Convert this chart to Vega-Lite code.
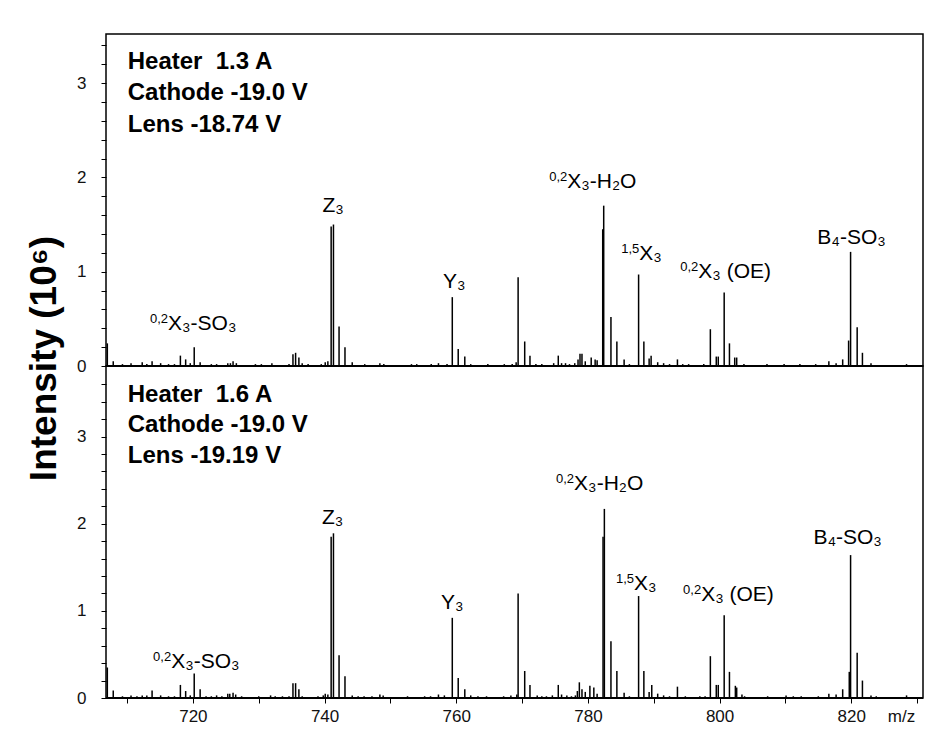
{
  "$schema": "https://vega.github.io/schema/vega-lite/v6.json",
  "padding": {"left": 24, "top": 33, "right": 5, "bottom": 5},
  "background": "white",
  "bounds": "flush",
  "config": {
    "font": "Liberation Sans",
    "view": {"stroke": "#000", "strokeWidth": 1.5},
    "axis": {"grid": false, "domain": false, "tickColor": "#000", "tickSize": 5, "tickWidth": 1, "labelColor": "#111", "labelFontSize": 17, "titleColor": "#000", "labelOverlap": false, "tickCount": 100}
  },
  "spacing": 0,
  "datasets": {
    "top": [
      {"mz":707.0,"i":0.24},{"mz":707.9,"i":0.05},{"mz":709.3,"i":0.02},{"mz":710.6,"i":0.03},{"mz":711.5,"i":0.01},{"mz":712.3,"i":0.04},{"mz":713.0,"i":0.02},{"mz":713.8,"i":0.05},{"mz":715.1,"i":0.03},{"mz":716.3,"i":0.02},{"mz":717.2,"i":0.02},{"mz":718.1,"i":0.11},{"mz":718.9,"i":0.07},{"mz":719.6,"i":0.03},{"mz":720.2,"i":0.20},{"mz":721.1,"i":0.04},{"mz":722.0,"i":0.01},{"mz":722.8,"i":0.02},{"mz":723.6,"i":0.02},{"mz":724.4,"i":0.01},{"mz":725.3,"i":0.03},{"mz":725.7,"i":0.03},{"mz":726.1,"i":0.05},{"mz":726.6,"i":0.03},{"mz":728.2,"i":0.01},{"mz":729.5,"i":0.02},{"mz":730.4,"i":0.02},{"mz":732.0,"i":0.03},{"mz":733.4,"i":0.01},{"mz":734.6,"i":0.02},{"mz":735.2,"i":0.125},{"mz":735.6,"i":0.14},{"mz":736.1,"i":0.09},{"mz":736.6,"i":0.03},{"mz":737.5,"i":0.02},{"mz":738.6,"i":0.01},{"mz":739.5,"i":0.02},{"mz":740.1,"i":0.04},{"mz":740.5,"i":0.05},{"mz":741.0,"i":1.48},{"mz":741.35,"i":1.50},{"mz":742.2,"i":0.42},{"mz":743.1,"i":0.20},{"mz":744.2,"i":0.04},{"mz":745.0,"i":0.01},{"mz":746.1,"i":0.02},{"mz":747.0,"i":0.01},{"mz":748.4,"i":0.03},{"mz":749.0,"i":0.02},{"mz":750.3,"i":0.01},{"mz":751.6,"i":0.01},{"mz":753.2,"i":0.02},{"mz":754.0,"i":0.02},{"mz":755.2,"i":0.01},{"mz":756.2,"i":0.02},{"mz":757.3,"i":0.03},{"mz":758.6,"i":0.02},{"mz":759.4,"i":0.73},{"mz":760.3,"i":0.18},{"mz":761.3,"i":0.10},{"mz":762.2,"i":0.02},{"mz":763.4,"i":0.01},{"mz":764.8,"i":0.02},{"mz":766.0,"i":0.01},{"mz":767.3,"i":0.02},{"mz":768.5,"i":0.02},{"mz":769.1,"i":0.04},{"mz":769.4,"i":0.94},{"mz":770.4,"i":0.26},{"mz":771.2,"i":0.11},{"mz":772.1,"i":0.02},{"mz":773.0,"i":0.02},{"mz":774.0,"i":0.01},{"mz":774.8,"i":0.03},{"mz":775.5,"i":0.11},{"mz":776.0,"i":0.03},{"mz":776.6,"i":0.03},{"mz":777.2,"i":0.02},{"mz":778.0,"i":0.03},{"mz":778.5,"i":0.07},{"mz":778.8,"i":0.13},{"mz":779.1,"i":0.13},{"mz":779.6,"i":0.05},{"mz":780.5,"i":0.09},{"mz":781.1,"i":0.07},{"mz":781.4,"i":0.06},{"mz":782.25,"i":1.45},{"mz":782.4,"i":1.70},{"mz":783.5,"i":0.52},{"mz":784.4,"i":0.26},{"mz":785.5,"i":0.07},{"mz":786.3,"i":0.02},{"mz":787.7,"i":0.97},{"mz":788.5,"i":0.26},{"mz":789.3,"i":0.08},{"mz":789.6,"i":0.11},{"mz":790.6,"i":0.04},{"mz":791.5,"i":0.03},{"mz":792.4,"i":0.02},{"mz":793.6,"i":0.07},{"mz":794.4,"i":0.02},{"mz":795.3,"i":0.02},{"mz":796.5,"i":0.01},{"mz":797.6,"i":0.02},{"mz":798.6,"i":0.39},{"mz":799.5,"i":0.10},{"mz":799.8,"i":0.10},{"mz":800.7,"i":0.78},{"mz":801.5,"i":0.24},{"mz":802.3,"i":0.09},{"mz":802.6,"i":0.09},{"mz":803.7,"i":0.02},{"mz":804.6,"i":0.01},{"mz":805.8,"i":0.01},{"mz":807.2,"i":0.02},{"mz":808.4,"i":0.01},{"mz":809.8,"i":0.02},{"mz":811.4,"i":0.01},{"mz":812.2,"i":0.02},{"mz":813.5,"i":0.01},{"mz":814.6,"i":0.02},{"mz":816.6,"i":0.05},{"mz":817.7,"i":0.03},{"mz":818.7,"i":0.07},{"mz":819.6,"i":0.27},{"mz":819.9,"i":1.21},{"mz":820.9,"i":0.41},{"mz":821.7,"i":0.14},{"mz":823.0,"i":0.03},{"mz":823.8,"i":0.01},{"mz":825.0,"i":0.01},{"mz":826.5,"i":0.01},{"mz":828.4,"i":0.02}
    ],
    "bottom": [
      {"mz":707.0,"i":0.35},{"mz":707.9,"i":0.085},{"mz":709.3,"i":0.02},{"mz":710.6,"i":0.03},{"mz":711.5,"i":0.02},{"mz":712.3,"i":0.03},{"mz":713.0,"i":0.03},{"mz":713.8,"i":0.085},{"mz":715.1,"i":0.03},{"mz":716.3,"i":0.02},{"mz":717.2,"i":0.02},{"mz":718.1,"i":0.15},{"mz":718.9,"i":0.08},{"mz":719.6,"i":0.03},{"mz":720.2,"i":0.28},{"mz":721.1,"i":0.10},{"mz":722.0,"i":0.02},{"mz":722.8,"i":0.02},{"mz":723.6,"i":0.03},{"mz":724.4,"i":0.02},{"mz":725.3,"i":0.05},{"mz":725.6,"i":0.05},{"mz":726.1,"i":0.06},{"mz":726.5,"i":0.04},{"mz":727.4,"i":0.02},{"mz":728.4,"i":0.01},{"mz":730.0,"i":0.02},{"mz":730.8,"i":0.01},{"mz":731.8,"i":0.03},{"mz":732.5,"i":0.02},{"mz":733.6,"i":0.02},{"mz":734.6,"i":0.02},{"mz":735.2,"i":0.17},{"mz":735.6,"i":0.17},{"mz":736.1,"i":0.10},{"mz":736.6,"i":0.02},{"mz":737.8,"i":0.01},{"mz":739.0,"i":0.02},{"mz":739.8,"i":0.03},{"mz":740.1,"i":0.05},{"mz":740.5,"i":0.04},{"mz":741.0,"i":1.85},{"mz":741.35,"i":1.89},{"mz":742.2,"i":0.49},{"mz":743.1,"i":0.25},{"mz":744.2,"i":0.03},{"mz":745.1,"i":0.02},{"mz":746.0,"i":0.02},{"mz":747.2,"i":0.02},{"mz":748.4,"i":0.04},{"mz":748.9,"i":0.03},{"mz":750.2,"i":0.01},{"mz":751.5,"i":0.01},{"mz":752.6,"i":0.02},{"mz":754.0,"i":0.01},{"mz":755.2,"i":0.02},{"mz":756.1,"i":0.02},{"mz":757.3,"i":0.04},{"mz":758.2,"i":0.03},{"mz":759.4,"i":0.92},{"mz":760.3,"i":0.23},{"mz":761.3,"i":0.10},{"mz":762.2,"i":0.03},{"mz":763.3,"i":0.02},{"mz":764.6,"i":0.02},{"mz":765.8,"i":0.01},{"mz":767.2,"i":0.02},{"mz":768.3,"i":0.03},{"mz":769.2,"i":0.04},{"mz":769.4,"i":1.20},{"mz":770.4,"i":0.31},{"mz":771.2,"i":0.15},{"mz":772.3,"i":0.03},{"mz":773.0,"i":0.02},{"mz":773.7,"i":0.02},{"mz":774.6,"i":0.03},{"mz":775.5,"i":0.15},{"mz":776.0,"i":0.04},{"mz":776.8,"i":0.03},{"mz":777.5,"i":0.02},{"mz":778.1,"i":0.03},{"mz":778.4,"i":0.08},{"mz":778.7,"i":0.18},{"mz":779.1,"i":0.10},{"mz":779.6,"i":0.07},{"mz":780.3,"i":0.14},{"mz":780.9,"i":0.12},{"mz":781.4,"i":0.05},{"mz":782.3,"i":1.85},{"mz":782.5,"i":2.17},{"mz":783.5,"i":0.65},{"mz":784.4,"i":0.31},{"mz":785.5,"i":0.06},{"mz":786.3,"i":0.02},{"mz":787.7,"i":1.17},{"mz":788.5,"i":0.31},{"mz":789.3,"i":0.07},{"mz":789.7,"i":0.15},{"mz":790.6,"i":0.05},{"mz":791.5,"i":0.03},{"mz":792.4,"i":0.02},{"mz":793.6,"i":0.13},{"mz":794.8,"i":0.02},{"mz":795.9,"i":0.01},{"mz":797.0,"i":0.02},{"mz":797.8,"i":0.02},{"mz":798.6,"i":0.48},{"mz":799.5,"i":0.15},{"mz":799.8,"i":0.15},{"mz":800.7,"i":0.95},{"mz":801.5,"i":0.30},{"mz":802.4,"i":0.14},{"mz":802.6,"i":0.12},{"mz":803.4,"i":0.04},{"mz":803.8,"i":0.02},{"mz":805.0,"i":0.01},{"mz":806.2,"i":0.01},{"mz":807.3,"i":0.02},{"mz":808.6,"i":0.01},{"mz":810.1,"i":0.03},{"mz":811.2,"i":0.02},{"mz":812.4,"i":0.02},{"mz":813.6,"i":0.01},{"mz":815.0,"i":0.02},{"mz":816.6,"i":0.05},{"mz":817.7,"i":0.04},{"mz":818.7,"i":0.10},{"mz":819.7,"i":0.30},{"mz":819.9,"i":1.64},{"mz":820.9,"i":0.52},{"mz":821.7,"i":0.20},{"mz":823.0,"i":0.03},{"mz":823.8,"i":0.02},{"mz":825.2,"i":0.01},{"mz":826.8,"i":0.01},{"mz":828.4,"i":0.03}
    ],
    "labTop": [
      {"mz":716.22,"y":0.384,"pre":"0,2","main":"X₃-SO₃"},
      {"mz":739.67,"y":1.638,"pre":"","main":"Z₃"},
      {"mz":758.0,"y":0.83,"pre":"","main":"Y₃"},
      {"mz":776.86,"y":1.882,"pre":"0,2","main":"X₃-H₂O"},
      {"mz":787.8,"y":1.119,"pre":"1,5","main":"X₃"},
      {"mz":796.77,"y":0.938,"pre":"0,2","main":"X₃ (OE)"},
      {"mz":814.85,"y":1.296,"pre":"","main":"B₄-SO₃"}
    ],
    "labBottom": [
      {"mz":716.7,"y":0.345,"pre":"0,2","main":"X₃-SO₃"},
      {"mz":739.6,"y":2.0,"pre":"","main":"Z₃"},
      {"mz":757.7,"y":1.016,"pre":"","main":"Y₃"},
      {"mz":777.9,"y":2.384,"pre":"0,2","main":"X₃-H₂O"},
      {"mz":787.0,"y":1.234,"pre":"1,5","main":"X₃"},
      {"mz":797.2,"y":1.111,"pre":"0,2","main":"X₃ (OE)"},
      {"mz":814.25,"y":1.77,"pre":"","main":"B₄-SO₃"}
    ],
    "infoTop": [
      {"mz":710.1,"y":3.144,"txt":"Heater\u00a0 1.3 A"},
      {"mz":710.1,"y":2.815,"txt":"Cathode -19.0 V"},
      {"mz":710.1,"y":2.486,"txt":"Lens -18.74 V"}
    ],
    "infoBottom": [
      {"mz":710.1,"y":3.399,"txt":"Heater\u00a0 1.6 A"},
      {"mz":710.1,"y":3.054,"txt":"Cathode -19.0 V"},
      {"mz":710.1,"y":2.694,"txt":"Lens -19.19 V"}
    ]
  },
  "vconcat": [
    {
      "width": 817,
      "height": 332,
      "layer": [
        {
          "data": {"name": "top"},
          "mark": {"type": "rule", "color": "#000", "strokeWidth": 1.5},
          "encoding": {
            "x": {"field": "mz", "type": "quantitative", "scale": {"domain": [706.8, 830.9], "nice": false, "zero": false}, "axis": null},
            "y": {"field": "i", "type": "quantitative", "scale": {"domain": [0, 3.52], "nice": false},
              "axis": {"values": [0,0.2,0.4,0.6,0.8,1,1.2,1.4,1.6,1.8,2,2.2,2.4,2.6,2.8,3,3.2,3.4],
                "tickCount": 100,
                "labelExpr": "datum.value % 1 == 0 ? format(datum.value, 'd') : ''",
                "labelOverlap": false, "labelPadding": 15,
                "title": "Intensity (10⁶)", "titleFontSize": 37, "titleFontWeight": "bold",
                "titleAngle": 270, "titleAlign": "center", "titleBaseline": "alphabetic",
                "titleX": -51, "titleY": 324}},
            "y2": {"datum": 0}
          }
        },
        {
          "data": {"values": [{}]},
          "mark": {"type": "rule", "color": "#000", "strokeWidth": 2},
          "encoding": {"y": {"datum": 0}}
        },
        {
          "data": {"name": "labTop"},
          "mark": {"type": "text", "align": "left", "baseline": "alphabetic", "fontSize": 21, "color": "#000"},
          "encoding": {"x": {"field": "mz", "type": "quantitative"}, "y": {"field": "y", "type": "quantitative"}, "text": {"field": "main"}}
        },
        {
          "data": {"name": "labTop"},
          "mark": {"type": "text", "align": "right", "baseline": "alphabetic", "fontSize": 13, "dy": -7, "color": "#000"},
          "encoding": {"x": {"field": "mz", "type": "quantitative"}, "y": {"field": "y", "type": "quantitative"}, "text": {"field": "pre"}}
        },
        {
          "data": {"name": "infoTop"},
          "mark": {"type": "text", "align": "left", "baseline": "alphabetic", "fontSize": 24, "fontWeight": "bold", "color": "#000"},
          "encoding": {"x": {"field": "mz", "type": "quantitative"}, "y": {"field": "y", "type": "quantitative"}, "text": {"field": "txt"}}
        }
      ]
    },
    {
      "width": 817,
      "height": 332,
      "layer": [
        {
          "data": {"name": "bottom"},
          "mark": {"type": "rule", "color": "#000", "strokeWidth": 1.5},
          "encoding": {
            "x": {"field": "mz", "type": "quantitative", "scale": {"domain": [706.8, 830.9], "nice": false, "zero": false},
              "axis": {"values": [710,720,730,740,750,760,770,780,790,800,810,820,830],
                "tickCount": 100,
                "labelExpr": "datum.value % 20 == 0 ? format(datum.value, 'd') : ''",
                "labelOverlap": false, "labelPadding": 5,
                "title": "m/z", "titleFontSize": 17, "titleFontWeight": "normal", "titleColor": "#111",
                "titleX": 795, "titleY": 18, "titleAlign": "center", "titleBaseline": "middle"}},
            "y": {"field": "i", "type": "quantitative", "scale": {"domain": [0, 3.81], "nice": false},
              "axis": {"values": [0,0.2,0.4,0.6,0.8,1,1.2,1.4,1.6,1.8,2,2.2,2.4,2.6,2.8,3,3.2,3.4,3.6],
                "tickCount": 100,
                "labelExpr": "datum.value % 1 == 0 ? format(datum.value, 'd') : ''",
                "labelOverlap": false, "labelPadding": 15, "title": null}},
            "y2": {"datum": 0}
          }
        },
        {
          "data": {"values": [{}]},
          "mark": {"type": "rule", "color": "#000", "strokeWidth": 2},
          "encoding": {"y": {"datum": 0}}
        },
        {
          "data": {"name": "labBottom"},
          "mark": {"type": "text", "align": "left", "baseline": "alphabetic", "fontSize": 21, "color": "#000"},
          "encoding": {"x": {"field": "mz", "type": "quantitative"}, "y": {"field": "y", "type": "quantitative"}, "text": {"field": "main"}}
        },
        {
          "data": {"name": "labBottom"},
          "mark": {"type": "text", "align": "right", "baseline": "alphabetic", "fontSize": 13, "dy": -7, "color": "#000"},
          "encoding": {"x": {"field": "mz", "type": "quantitative"}, "y": {"field": "y", "type": "quantitative"}, "text": {"field": "pre"}}
        },
        {
          "data": {"name": "infoBottom"},
          "mark": {"type": "text", "align": "left", "baseline": "alphabetic", "fontSize": 24, "fontWeight": "bold", "color": "#000"},
          "encoding": {"x": {"field": "mz", "type": "quantitative"}, "y": {"field": "y", "type": "quantitative"}, "text": {"field": "txt"}}
        }
      ]
    }
  ]
}
